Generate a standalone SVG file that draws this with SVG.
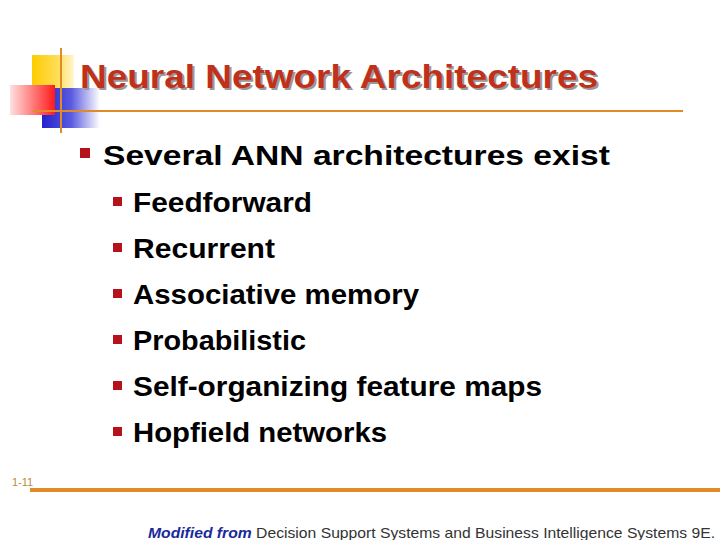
<svg xmlns="http://www.w3.org/2000/svg" width="720" height="540" viewBox="0 0 720 540">
<defs>
<linearGradient id="gy" x1="0" x2="1"><stop offset="0" stop-color="#ffcc00"/><stop offset="0.6" stop-color="#ffdd55"/><stop offset="1" stop-color="#fff6d0"/></linearGradient>
<linearGradient id="gr" x1="1" x2="0"><stop offset="0" stop-color="#ff1a1a"/><stop offset="1" stop-color="#ffe0e0"/></linearGradient>
<linearGradient id="gb" x1="0" x2="1"><stop offset="0" stop-color="#2222cc"/><stop offset="0.5" stop-color="#5a5ae0"/><stop offset="1" stop-color="#ffffff"/></linearGradient>
<style>
.t{font-family:"Liberation Sans",Arial,sans-serif;font-weight:bold}
.sub{font-family:"Liberation Sans",Arial,sans-serif;font-weight:bold;font-size:28px;fill:#000}
.b{fill:#b5121b}
</style>
</defs>
<rect width="720" height="540" fill="#fff"/>
<g id="logo">
<rect x="32" y="55" width="42" height="35" fill="url(#gy)"/>
<rect x="42" y="88" width="58" height="40" fill="url(#gb)"/>
<rect x="10" y="85" width="45" height="30" fill="url(#gr)"/>
<line x1="61" y1="48" x2="61" y2="133" stroke="#e08a28" stroke-width="2"/>
<line x1="33" y1="111" x2="683" y2="111" stroke="#e08a28" stroke-width="2"/>
</g>
<g id="title">
<text x="82" y="90" class="t" font-size="34" fill="#999" textLength="518" lengthAdjust="spacingAndGlyphs">Neural Network Architectures</text>
<text x="80" y="88" class="t" font-size="34" fill="#c0311c" textLength="518" lengthAdjust="spacingAndGlyphs">Neural Network Architectures</text>
</g>
<g id="body">
<rect x="80" y="148" width="10" height="10" class="b"/>
<text x="103" y="165" class="sub" font-size="31" textLength="507" lengthAdjust="spacingAndGlyphs">Several ANN architectures exist</text>
<rect x="113" y="197" width="9" height="9" class="b"/><text x="133" y="212" class="sub" textLength="179" lengthAdjust="spacingAndGlyphs">Feedforward</text>
<rect x="113" y="243" width="9" height="9" class="b"/><text x="133" y="258" class="sub" textLength="142" lengthAdjust="spacingAndGlyphs">Recurrent</text>
<rect x="113" y="289" width="9" height="9" class="b"/><text x="133" y="304" class="sub" textLength="286" lengthAdjust="spacingAndGlyphs">Associative memory</text>
<rect x="113" y="335" width="9" height="9" class="b"/><text x="133" y="350" class="sub" textLength="173" lengthAdjust="spacingAndGlyphs">Probabilistic</text>
<rect x="113" y="381" width="9" height="9" class="b"/><text x="133" y="396" class="sub" textLength="409" lengthAdjust="spacingAndGlyphs">Self-organizing feature maps</text>
<rect x="113" y="427" width="9" height="9" class="b"/><text x="133" y="442" class="sub" textLength="254" lengthAdjust="spacingAndGlyphs">Hopfield networks</text>
</g>
<g id="footer">
<text x="12" y="486" font-family="Liberation Sans,Arial,sans-serif" font-size="11" fill="#c08a3a">1-11</text>
<rect x="30" y="488" width="690" height="4" fill="#e08a28"/>
<text x="148" y="538" font-family="Liberation Sans,Arial,sans-serif" font-size="15" fill="#333" textLength="567" lengthAdjust="spacingAndGlyphs"><tspan font-weight="bold" font-style="italic" fill="#1a2a9a">Modified from</tspan> Decision Support Systems and Business Intelligence Systems 9E.</text>
</g>
</svg>
